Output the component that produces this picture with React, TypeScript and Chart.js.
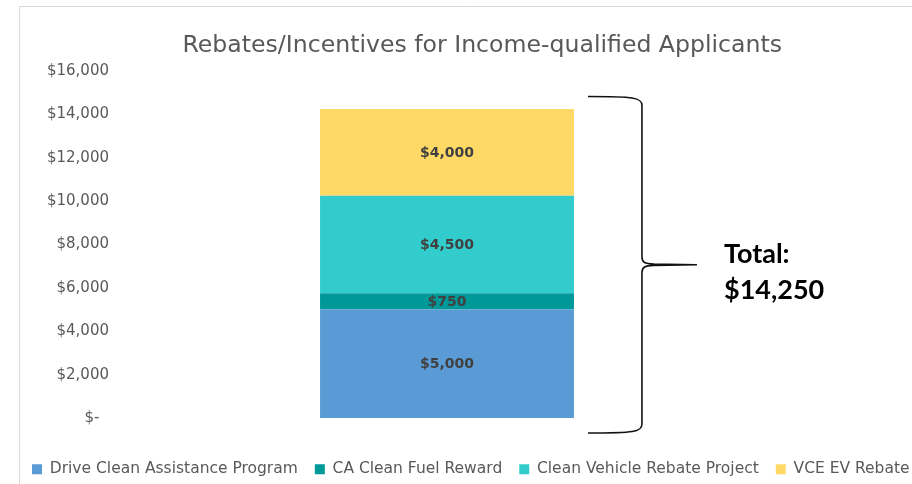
import React, { useEffect, useRef } from "react";
import { Chart, registerables } from "chart.js";

Chart.register(...registerables);

const categories = [""];
const seriesNames = [
  "Drive Clean Assistance Program",
  "CA Clean Fuel Reward",
  "Clean Vehicle Rebate Project",
  "VCE EV Rebate",
];
const driveCleanAssistance = [5000];
const caCleanFuelReward = [750];
const cleanVehicleRebate = [4500];
const vceEvRebate = [4000];
const seriesColors = ["#5B9BD5", "#009999", "#33CCCC", "#FFD966"];
const yTickValues = [0, 2000, 4000, 6000, 8000, 10000, 12000, 14000, 16000];
const titleText = "Rebates/Incentives for Income-qualified Applicants";
const totalLabel = "Total:";

const FONT = "'DejaVu Sans', 'Open Sans', sans-serif";
const BOLD_FONT = "Lato, 'Open Sans', sans-serif";

const fmt = (v: number) => (v === 0 ? "$-  " : "$" + v.toLocaleString("en-US"));

const framePlugin = {
  id: "frame",
  beforeDraw(chart: any) {
    const { ctx, width, height } = chart;
    ctx.save();
    ctx.fillStyle = "#ffffff";
    ctx.fillRect(0, 0, width, height);
    ctx.strokeStyle = "#D9D9D9";
    ctx.lineWidth = 1;
    ctx.beginPath();
    ctx.moveTo(19.5, height);
    ctx.lineTo(19.5, 6.5);
    ctx.lineTo(width, 6.5);
    ctx.stroke();
    ctx.restore();
  },
};

const dataLabelPlugin = {
  id: "dataLabels",
  afterDatasetsDraw(chart: any) {
    const { ctx } = chart;
    ctx.save();
    ctx.font = `bold 14px ${FONT}`;
    ctx.fillStyle = "#404040";
    ctx.textAlign = "center";
    ctx.textBaseline = "middle";
    chart.data.datasets.forEach((ds: any, i: number) => {
      const meta = chart.getDatasetMeta(i);
      meta.data.forEach((el: any, j: number) => {
        const v = ds.data[j];
        const cy = (el.y + el.base) / 2;
        ctx.fillText(fmt(v), el.x, cy + 1);
      });
    });
    ctx.restore();
  },
};

const bracePlugin = {
  id: "brace",
  afterDraw(chart: any) {
    const { ctx } = chart;
    const yScale = chart.scales.y;
    const n = chart.data.datasets.length;
    const total = chart.data.datasets.reduce((s: number, d: any) => s + d.data[0], 0);
    const el = chart.getDatasetMeta(n - 1).data[0] as any;
    const barRight = el.x + el.width / 2;
    const xL = barRight + 14;
    const xV = barRight + 68;
    const xTip = barRight + 123;
    const yT = yScale.getPixelForValue(total) - 12.5;
    const yB = yScale.getPixelForValue(0) + 15;
    const yM = (yT + yB) / 2;
    ctx.save();
    ctx.strokeStyle = "#111111";
    ctx.lineWidth = 1.6;
    ctx.beginPath();
    ctx.moveTo(xL, yT);
    ctx.bezierCurveTo(xV - 8, yT, xV, yT + 1, xV, yT + 9);
    ctx.lineTo(xV, yM - 8);
    ctx.bezierCurveTo(xV, yM - 2, xV + 3, yM - 1, xV + 12, yM - 0.6);
    ctx.lineTo(xTip, yM);
    ctx.lineTo(xV + 12, yM + 0.6);
    ctx.bezierCurveTo(xV + 3, yM + 1, xV, yM + 2, xV, yM + 8);
    ctx.lineTo(xV, yB - 9);
    ctx.bezierCurveTo(xV, yB - 1, xV - 8, yB, xL, yB);
    ctx.stroke();

    ctx.fillStyle = "#000000";
    ctx.font = `bold 27px ${BOLD_FONT}`;
    ctx.textAlign = "left";
    ctx.textBaseline = "alphabetic";
    ctx.fillText(totalLabel, barRight + 150, yM - 2);
    ctx.fillText(fmt(total), barRight + 150, yM + 34);
    ctx.restore();
  },
};

export default function App() {
  const ref = useRef<HTMLCanvasElement>(null);
  useEffect(() => {
    if (!ref.current) return;
    const values = [driveCleanAssistance, caCleanFuelReward, cleanVehicleRebate, vceEvRebate];
    const chart = new Chart(ref.current, {
      type: "bar",
      data: {
        labels: categories,
        datasets: seriesNames.map((name, i) => ({
          label: name,
          data: values[i],
          backgroundColor: seriesColors[i],
          borderWidth: 0,
          categoryPercentage: 1,
          barPercentage: 0.379,
        })),
      },
      options: {
        animation: false,
        responsive: false,
        devicePixelRatio: 1,
        events: [],
        layout: { padding: { left: 15, top: 18, right: -15, bottom: -3 } },
        plugins: {
          title: {
            display: true,
            text: titleText,
            fullSize: false,
            align: "end",
            color: "#595959",
            font: { family: FONT, size: 23.6, weight: "normal" },
            padding: { top: 13.35, bottom: 11.35 },
          },
          legend: {
            display: true,
            position: "bottom",
            align: "start",
            labels: {
              color: "#595959",
              font: { family: FONT, size: 15.5 },
              boxWidth: 10,
              boxHeight: 10,
              padding: 17,
            },
          },
          tooltip: { enabled: false },
        },
        scales: {
          x: {
            stacked: true,
            display: true,
            grid: { display: false, drawTicks: false },
            border: { display: false },
            ticks: { display: false },
            afterFit(s: any) {
              s.height = 26.5;
            },
          },
          y: {
            stacked: true,
            position: "left",
            min: 0,
            max: 16000,
            grid: { display: false, drawTicks: false },
            border: { display: false },
            afterBuildTicks(s: any) {
              s.ticks = yTickValues.map((v) => ({ value: v }));
            },
            ticks: {
              color: "#595959",
              font: { family: FONT, size: 15 },
              padding: 3,
              callback: (v: any) => fmt(Number(v)),
            },
            afterFit(s: any) {
              s.width = 97;
            },
          },
          yRight: {
            position: "right",
            display: true,
            grid: { display: false, drawTicks: false },
            border: { display: false },
            ticks: { display: false },
            afterFit(s: any) {
              s.width = 145;
            },
          },
        },
      },
      plugins: [framePlugin, dataLabelPlugin, bracePlugin],
    });
    return () => chart.destroy();
  }, []);
  return (
    <div style={{ position: "absolute", left: 0, top: 0, width: 912, height: 484, background: "#fff" }}>
      <canvas ref={ref} width={912} height={484} style={{ display: "block", width: 912, height: 484 }} />
    </div>
  );
}
